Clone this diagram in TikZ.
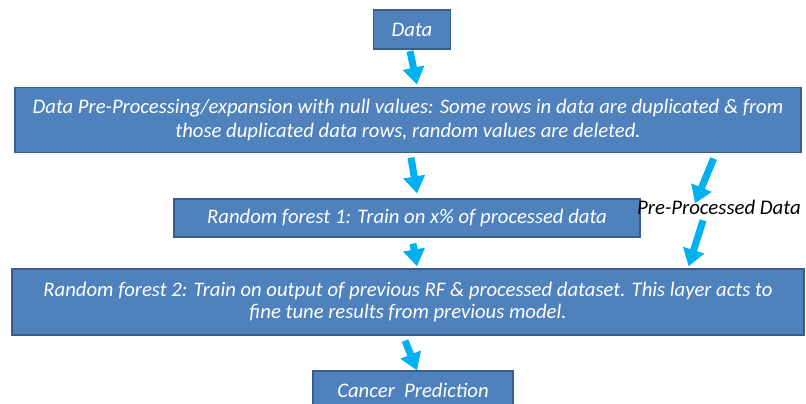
\documentclass[tikz,border=0pt]{standalone}
\usepackage{fontspec}
\setmainfont{Carlito}
\usetikzlibrary{arrows.meta}
\definecolor{boxfill}{HTML}{4F81BD}
\definecolor{boxline}{HTML}{385D8A}
\definecolor{arrblue}{HTML}{00B0F0}
\begin{document}
\begin{tikzpicture}[x=1pt,y=-1pt,
  stagebox/.style={draw=boxline, line width=1.2pt, fill=boxfill, text=white,
    font=\itshape\fontsize{20.7}{24.5}\selectfont, align=center, inner sep=2pt},
  flowarrow/.style={draw=arrblue, line width=7pt,
    -{Triangle[length=17pt,width=21pt]}},
  sidelabel/.style={font=\itshape\fontsize{20.8}{24}\selectfont, text=black, inner sep=0pt}
]
\clip (0,0) rectangle (806,404);
\fill[white] (0,0) rectangle (806,404);

\node[stagebox, minimum width=77pt, minimum height=39pt] (data) at (412,29.5) {Data};
\node[stagebox, minimum width=786pt, minimum height=65pt] (pre) at (408,120)
  {Data Pre-Processing/expansion with null values: Some rows in data are duplicated \& from\\
   those duplicated data rows, random values are deleted.};
\node[stagebox, minimum width=466pt, minimum height=38pt] (rf1) at (407,218)
  {Random forest 1: Train on x\% of processed data};
\node[stagebox, minimum width=792pt, minimum height=66pt, font=\itshape\fontsize{20.7}{22}\selectfont] (rf2) at (408,302)
  {Random forest 2: Train on output of previous RF \& processed dataset. This layer acts to\\
   fine tune results from previous model.};
\node[stagebox, minimum width=200pt, minimum height=38pt] (pred) at (413,390)
  {Cancer~ Prediction};
\node[sidelabel, anchor=base west] (ppd) at (637,214) {Pre-Processed Data};

\draw[flowarrow] ([shift={(-2,1.5)}]data.south) -- ([shift={(9,-2.5)}]pre.north);
\draw[flowarrow] ([shift={(3,4.5)}]pre.south) -- ([shift={(10,-5)}]rf1.north);
\draw[flowarrow] ([shift={(6,6)}]rf1.south) -- ([shift={(9,-2)}]rf2.north);
\draw[flowarrow] ([shift={(-3,5)}]rf2.south) -- ([shift={(4,0)}]pred.north);
\draw[flowarrow] ([shift={(-88,5.5)}]pre.south east) -- ([shift={(58,4)}]ppd.north west);
\draw[flowarrow] ([shift={(66,6)}]ppd.south west) -- ([shift={(-116,-2)}]rf2.north east);
\end{tikzpicture}
\end{document}
